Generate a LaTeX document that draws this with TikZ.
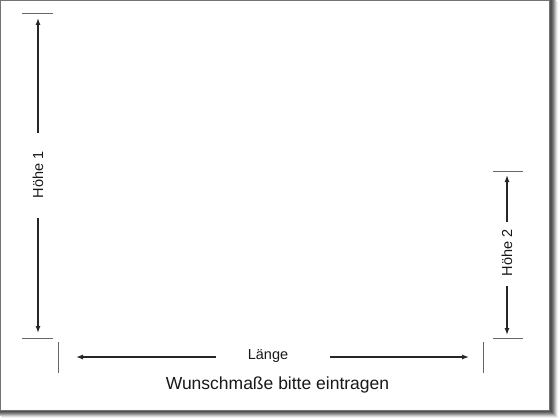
\documentclass[tikz,border=0pt]{standalone}
\usepackage{fontspec}
\setmainfont{Liberation Sans}
\usetikzlibrary{arrows.meta}
\tikzset{
  dimline/.style={line width=1.3pt, draw=black!85, -{Latex[length=7pt,width=5pt]}},
  tickline/.style={line width=0.8pt, draw=black!60},
  lbl/.style={font=\fontsize{14.5}{16}\selectfont, text=black!90, inner sep=0pt},
}
\begin{document}
\begin{tikzpicture}[x=1pt,y=-1pt]
\useasboundingbox (0,0) rectangle (560,420);
\fill[white] (0,0) rectangle (560,420);
% shadow
\foreach \o/\c in {8/6,7/14,6/25,5/38,4/50,3/60,2/68}{
  \fill[black!\c] (\o-6,\o-6) rectangle (550+\o,410+\o);
}
\fill[white] (0,0) rectangle (549,410);
\draw[black!55, line width=1pt] (0.5,0.5) rectangle (549,410);
% ticks
\coordinate (t1a) at (22,13); \coordinate (t1b) at (53,13);
\coordinate (t2a) at (22,338); \coordinate (t2b) at (53,338);
\coordinate (t3a) at (58,342); \coordinate (t3b) at (58,373);
\coordinate (t4a) at (483,342); \coordinate (t4b) at (483,373);
\coordinate (t5a) at (493,171); \coordinate (t5b) at (523,171);
\coordinate (t6a) at (493,338); \coordinate (t6b) at (523,338);
\foreach \p in {1,...,6}{\draw[tickline] (t\p a) -- (t\p b);}
% Höhe 1
\node[lbl, rotate=90] (h1) at (38,175) {Höhe 1};
\coordinate (h1top) at (38,18); \coordinate (h1bot) at (38,333);
\coordinate (h1u) at (38,133); \coordinate (h1d) at (38,218);
\draw[dimline] (h1u) -- (h1top);
\draw[dimline] (h1d) -- (h1bot);
% Höhe 2
\node[lbl, rotate=90] (h2) at (507,253) {Höhe 2};
\coordinate (h2top) at (507,175); \coordinate (h2bot) at (507,335);
\coordinate (h2u) at (507,222); \coordinate (h2d) at (507,286);
\draw[dimline] (h2u) -- (h2top);
\draw[dimline] (h2d) -- (h2bot);
% Länge
\node[lbl] (l) at (268,356) {Länge};
\coordinate (lleft) at (76,357); \coordinate (lright) at (469,357);
\coordinate (ll) at (216,357); \coordinate (lr) at (330,357);
\draw[dimline] (ll) -- (lleft);
\draw[dimline] (lr) -- (lright);
% title
\node[lbl, font=\fontsize{17.5}{20}\selectfont] (title) at (277.5,385) {Wunschmaße bitte eintragen};
\end{tikzpicture}
\end{document}
